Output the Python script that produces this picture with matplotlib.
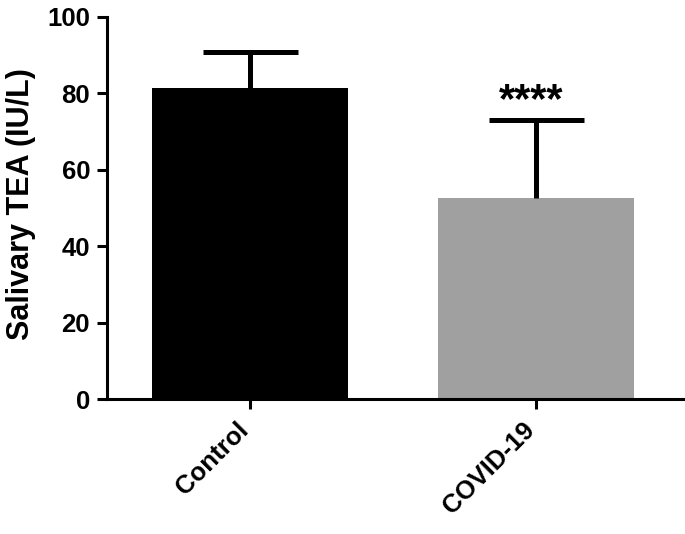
import matplotlib
matplotlib.use("Agg")
import matplotlib.pyplot as plt

groups = ["Control", "COVID-19"]
means = [81.4, 52.6]
sd_upper = [9.4, 20.4]
bar_colors = ["#000000", "#A0A0A0"]
stars = ["", "****"]

plt.rcParams["font.family"] = ["Liberation Sans", "DejaVu Sans"]
plt.rcParams["font.weight"] = "bold"

fig = plt.figure(figsize=(6.85, 5.34), dpi=100)
ax = fig.add_axes([0.1562, 0.2528, 0.8438, 0.7154])

pos = list(range(len(groups)))
cap_half = 0.166
ax.bar(pos, means, width=0.685, color=bar_colors, zorder=2)
# upper-only error bars: stem plus a single cap
tops = [m + s for m, s in zip(means, sd_upper)]
ax.vlines(pos, means, tops, color="black", linewidth=3.6, zorder=3)
ax.hlines(tops, [p - cap_half for p in pos], [p + cap_half for p in pos],
          color="black", linewidth=3.6, zorder=3)
for x, t, label in zip(pos, tops, stars):
    if label:
        ax.text(x - 0.017, t + 2.2, label, ha="center", va="baseline",
                fontsize=30, fontweight="bold")

ax.set_xlim(-0.5, 1.52)
ax.set_ylim(0, 100)
ax.set_yticks([0, 20, 40, 60, 80, 100])
ax.set_xticks(pos)
ax.set_xticklabels(groups, rotation=45, ha="right", va="baseline",
                   rotation_mode="anchor", fontsize=18.5, fontweight="bold")
ax.set_ylabel("Salivary TEA (IU/L)", fontsize=22, fontweight="bold")
ax.yaxis.set_label_coords(-0.123, 0.51)

for side in ("top", "right"):
    ax.spines[side].set_visible(False)
for side in ("left", "bottom"):
    ax.spines[side].set_linewidth(2.2)
ax.tick_params(axis="both", width=2.2, length=7.2)
ax.tick_params(axis="y", labelsize=18.5, pad=5)
ax.tick_params(axis="x", pad=16)
for label in ax.get_yticklabels():
    label.set_fontweight("bold")

fig.savefig("out.png", dpi=100)
